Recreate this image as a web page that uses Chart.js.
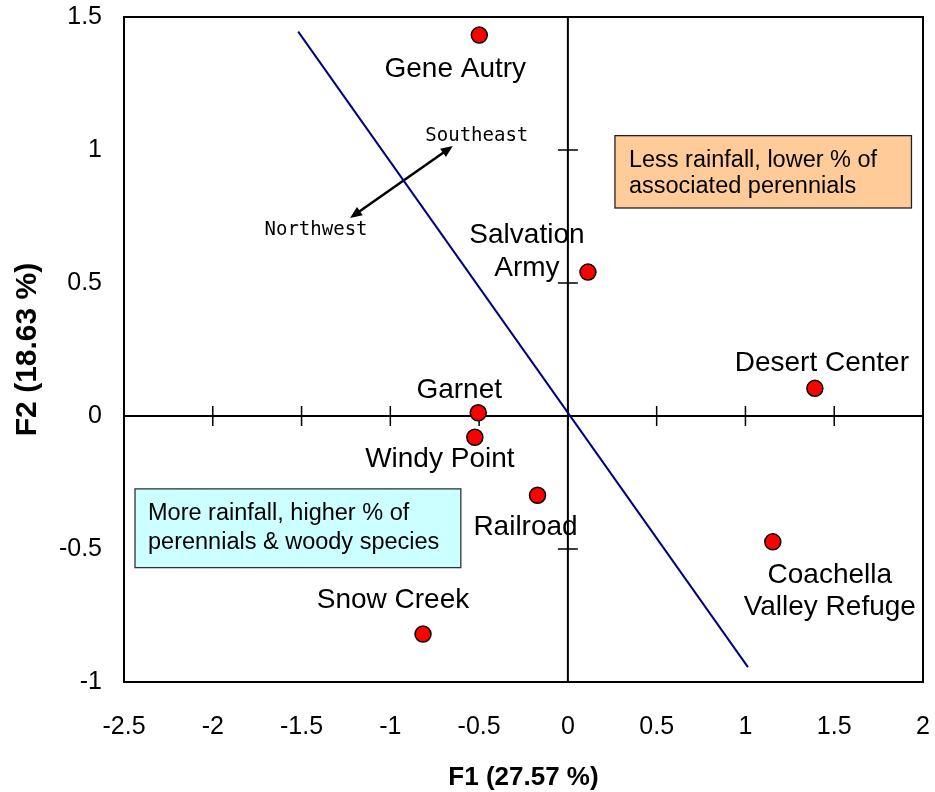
<!DOCTYPE html>
<html>
<head>
<meta charset="utf-8">
<script src="https://cdn.jsdelivr.net/npm/chart.js@4.4.1/dist/chart.umd.min.js"></script>
<style>
  html, body { margin: 0; padding: 0; background: #ffffff; }
  #wrap { width: 935px; height: 792px; position: relative; }
</style>
</head>
<body>
<div id="wrap"><canvas id="c" width="935" height="792"></canvas></div>
<script>
// ---- data ----
const sites = ['Gene Autry', 'Salvation Army', 'Desert Center', 'Garnet', 'Windy Point', 'Railroad', 'Coachella Valley Refuge', 'Snow Creek'];
const siteLabelLines = [['Gene Autry'], ['Salvation', 'Army'], ['Desert Center'], ['Garnet'], ['Windy Point'], ['Railroad'], ['Coachella', 'Valley Refuge'], ['Snow Creek']];
const f1 = [-0.499, 0.113, 1.391, -0.505, -0.524, -0.171, 1.154, -0.816];
const f2 = [1.432, 0.541, 0.104, 0.012, -0.080, -0.298, -0.473, -0.820];

const gradientF1 = [-1.519, 1.014];
const gradientF2 = [1.445, -0.944];

const arrowF1 = [-1.227, -0.648];
const arrowF2 = [0.744, 1.015];
const arrowLabels = ['Northwest', 'Southeast'];

const xTickValues = [-2.5, -2, -1.5, -1, -0.5, 0, 0.5, 1, 1.5, 2];
const xTickLabels = ['-2.5', '-2', '-1.5', '-1', '-0.5', '0', '0.5', '1', '1.5', '2'];
const yTickValues = [-1, -0.5, 0, 0.5, 1, 1.5];
const yTickLabels = ['-1', '-0.5', '0', '0.5', '1', '1.5'];

const xTitle = 'F1 (27.57 %)';
const yTitle = 'F2 (18.63 %)';

const boxTexts = [
  ['Less rainfall, lower % of', 'associated perennials'],
  ['More rainfall, higher % of', 'perennials & woody species']
];
// box extents in data units [x1, x2] and [y top, y bottom]
const boxExtentF1 = [[0.265, 1.935], [-2.438, -0.603]];
const boxExtentF2 = [[1.054, 0.782], [-0.274, -0.570]];

// ---- layout / style (not data) ----
const labelOffsets = [[-24, 42], [-61, -29], [7, -17], [-19, -15], [-35, 30], [-12, 40], [57, 41], [-30, -26]];
const labelLineHeight = 32.5;
const boxStyles = [
  { fill: '#FFCC99', stroke: '#222222', padX: 14, firstBase: 31, lh: 26.5 },
  { fill: '#CCFFFF', stroke: '#333333', padX: 13, firstBase: 31, lh: 29 }
];
const SANS = '"Liberation Sans", Arial, sans-serif';

const pointsData = f1.map((x, i) => ({ x: x, y: f2[i] }));
const lineData = gradientF1.map((x, i) => ({ x: x, y: gradientF2[i] }));

const decorPlugin = {
  id: 'decor',
  beforeDatasetsDraw(chart) {
    const { ctx, chartArea: a, scales: { x, y } } = chart;
    ctx.save();
    ctx.strokeStyle = '#000';
    ctx.lineWidth = 2;
    ctx.strokeRect(a.left, a.top, a.right - a.left, a.bottom - a.top);
    const x0 = x.getPixelForValue(0), y0 = y.getPixelForValue(0);
    ctx.lineWidth = 2;
    ctx.beginPath();
    ctx.moveTo(a.left, y0); ctx.lineTo(a.right, y0);
    ctx.moveTo(x0, a.top); ctx.lineTo(x0, a.bottom);
    ctx.stroke();
    ctx.lineWidth = 1.5;
    ctx.beginPath();
    xTickValues.forEach(v => {
      const px = x.getPixelForValue(v);
      if (px <= a.left + 1 || px >= a.right - 1) return;
      ctx.moveTo(px, y0 - 10); ctx.lineTo(px, y0 + 10);
    });
    yTickValues.forEach(v => {
      const py = y.getPixelForValue(v);
      if (py <= a.top + 1 || py >= a.bottom - 1) return;
      ctx.moveTo(x0 - 10, py); ctx.lineTo(x0 + 10, py);
    });
    ctx.stroke();

    boxTexts.forEach((lines, i) => {
      const st = boxStyles[i];
      const bx1 = x.getPixelForValue(boxExtentF1[i][0]);
      const bx2 = x.getPixelForValue(boxExtentF1[i][1]);
      const by1 = y.getPixelForValue(boxExtentF2[i][0]);
      const by2 = y.getPixelForValue(boxExtentF2[i][1]);
      ctx.fillStyle = st.fill;
      ctx.fillRect(bx1, by1, bx2 - bx1, by2 - by1);
      ctx.strokeStyle = st.stroke;
      ctx.lineWidth = 1.3;
      ctx.strokeRect(bx1, by1, bx2 - bx1, by2 - by1);
      ctx.fillStyle = '#000';
      ctx.font = '23.5px ' + SANS;
      ctx.textAlign = 'left';
      ctx.textBaseline = 'alphabetic';
      lines.forEach((t, j) => ctx.fillText(t, bx1 + st.padX, by1 + st.firstBase + j * st.lh));
    });

    const ax1 = x.getPixelForValue(arrowF1[0]), ay1 = y.getPixelForValue(arrowF2[0]);
    const ax2 = x.getPixelForValue(arrowF1[1]), ay2 = y.getPixelForValue(arrowF2[1]);
    const ang = Math.atan2(ay2 - ay1, ax2 - ax1);
    const hl = 12, hw = 5;
    ctx.strokeStyle = '#000';
    ctx.fillStyle = '#000';
    ctx.lineWidth = 2.5;
    ctx.beginPath();
    ctx.moveTo(ax1 + Math.cos(ang) * hl * 0.8, ay1 + Math.sin(ang) * hl * 0.8);
    ctx.lineTo(ax2 - Math.cos(ang) * hl * 0.8, ay2 - Math.sin(ang) * hl * 0.8);
    ctx.stroke();
    const head = (tx, ty, dir) => {
      const c = Math.cos(dir), s = Math.sin(dir);
      ctx.beginPath();
      ctx.moveTo(tx, ty);
      ctx.lineTo(tx - c * hl - s * hw, ty - s * hl + c * hw);
      ctx.lineTo(tx - c * hl + s * hw, ty - s * hl - c * hw);
      ctx.closePath();
      ctx.fill();
    };
    head(ax2, ay2, ang);
    head(ax1, ay1, ang + Math.PI);
    ctx.font = '19px "DejaVu Sans Mono", monospace';
    ctx.textAlign = 'center';
    ctx.textBaseline = 'alphabetic';
    ctx.fillText(arrowLabels[0], ax1 - 34, ay1 + 17);
    ctx.fillText(arrowLabels[1], ax2 + 24, ay2 - 5);
    ctx.restore();
  },
  afterDatasetsDraw(chart) {
    const { ctx, scales: { x, y } } = chart;
    ctx.save();
    ctx.fillStyle = '#000';
    ctx.font = '28px ' + SANS;
    ctx.textAlign = 'center';
    ctx.textBaseline = 'alphabetic';
    siteLabelLines.forEach((lines, i) => {
      const px = x.getPixelForValue(f1[i]) + labelOffsets[i][0];
      const py = y.getPixelForValue(f2[i]) + labelOffsets[i][1];
      lines.forEach((t, j) => ctx.fillText(t, px, py + j * labelLineHeight));
    });
    ctx.restore();
  }
};

function zeroPad(s) { s.paddingTop = 0; s.paddingBottom = 0; s.paddingLeft = 0; s.paddingRight = 0; }

new Chart(document.getElementById('c'), {
  type: 'scatter',
  data: {
    datasets: [
      {
        label: 'Sites',
        data: pointsData,
        pointRadius: 8,
        pointHoverRadius: 8,
        backgroundColor: '#FF0000',
        borderColor: '#000000',
        borderWidth: 1.5,
        order: 0
      },
      {
        label: 'Gradient',
        type: 'line',
        data: lineData,
        borderColor: '#000080',
        borderWidth: 2,
        pointRadius: 0,
        fill: false,
        order: 1
      }
    ]
  },
  options: {
    responsive: false,
    animation: false,
    devicePixelRatio: 1,
    layout: { padding: { top: 17, right: 12, left: 0, bottom: 0 } },
    plugins: { legend: { display: false }, tooltip: { enabled: false } },
    scales: {
      x: {
        type: 'linear',
        min: -2.5, max: 2,
        afterBuildTicks(s) { s.ticks = xTickValues.map(v => ({ value: v })); },
        afterFit(s) { s.height = 110; zeroPad(s); },
        grid: { display: false, drawTicks: false },
        border: { display: false },
        ticks: {
          padding: 30,
          color: '#000',
          font: { family: SANS, size: 25 },
          maxRotation: 0,
          autoSkip: false,
          callback: (v) => { const k = xTickValues.indexOf(v); return k >= 0 ? xTickLabels[k] : ''; }
        },
        title: {
          display: true, text: xTitle, color: '#000',
          font: { family: SANS, size: 26, weight: 'bold', lineHeight: 1 },
          padding: { top: 0, bottom: 1 }
        }
      },
      y: {
        type: 'linear',
        min: -1, max: 1.5,
        afterBuildTicks(s) { s.ticks = yTickValues.map(v => ({ value: v })); },
        afterFit(s) { s.width = 124; zeroPad(s); },
        grid: { display: false, drawTicks: false },
        border: { display: false },
        ticks: {
          padding: 22,
          color: '#000',
          font: { family: SANS, size: 25 },
          autoSkip: false,
          callback: (v) => { const k = yTickValues.indexOf(v); return k >= 0 ? yTickLabels[k] : ''; }
        },
        title: {
          display: true, text: yTitle, color: '#000',
          font: { family: SANS, size: 30, weight: 'bold', lineHeight: 1 },
          padding: { top: 13, bottom: 0 }
        }
      }
    }
  },
  plugins: [decorPlugin]
});
</script>
</body>
</html>
